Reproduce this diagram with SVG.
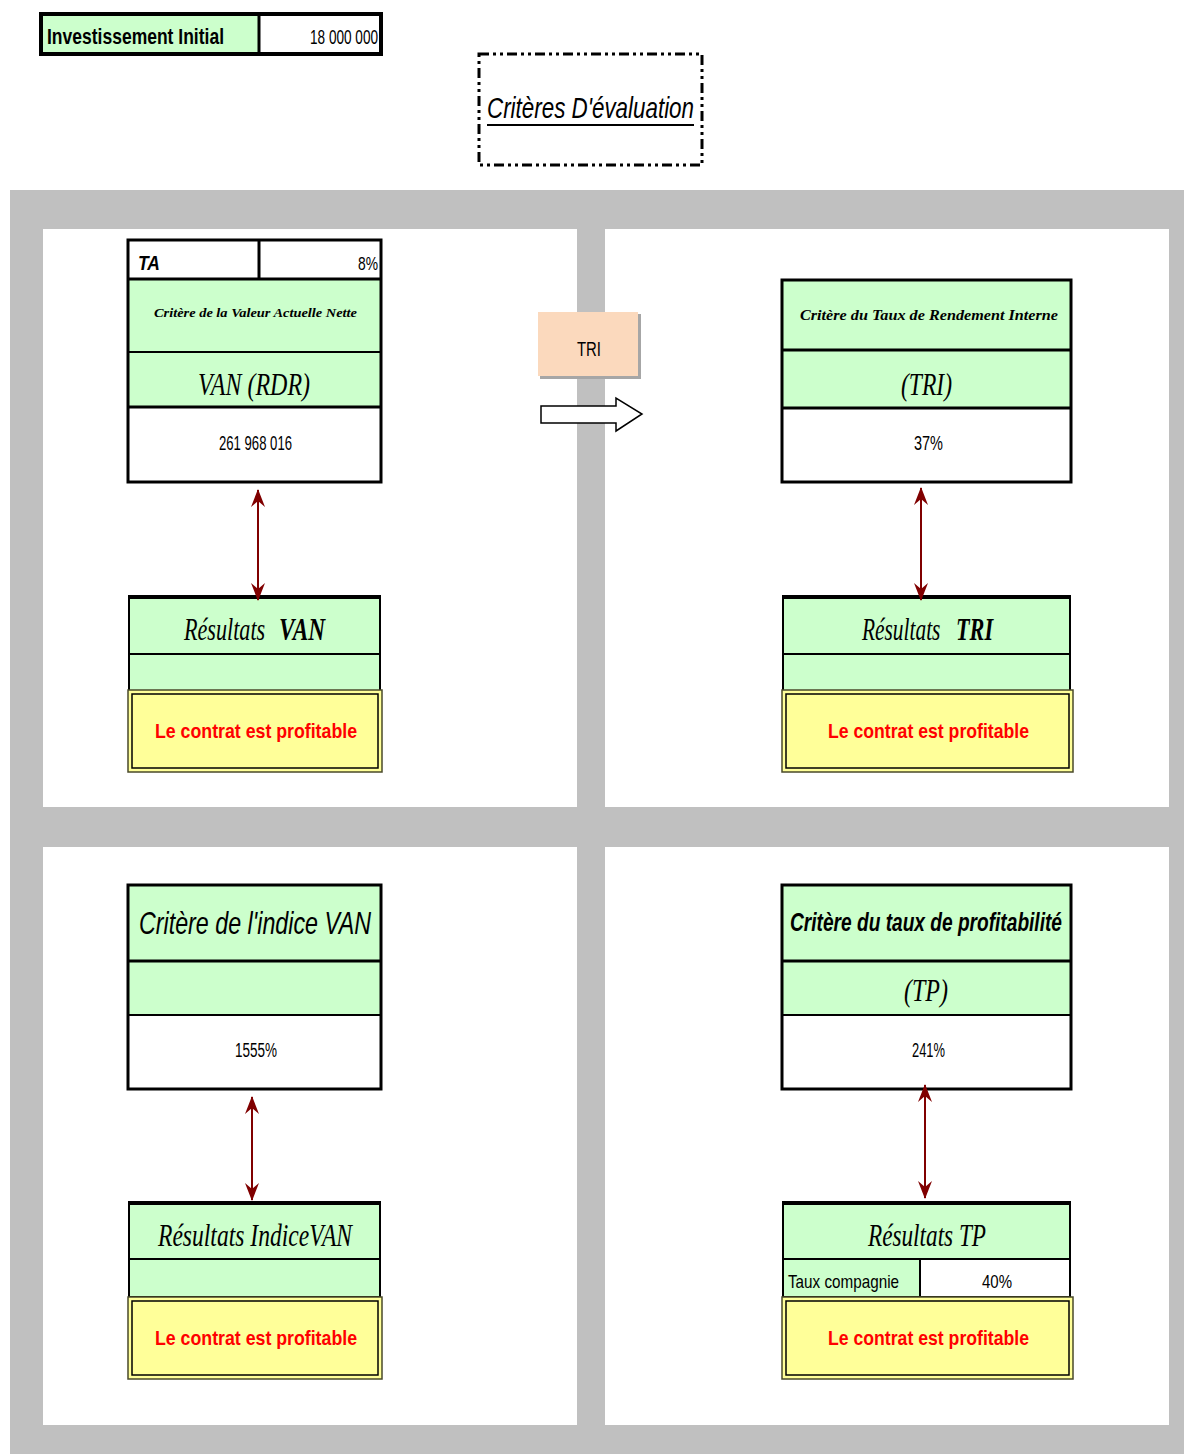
<svg xmlns="http://www.w3.org/2000/svg" width="1184" height="1454" viewBox="0 0 1184 1454">
<style>
.green{fill:#CCFFCC}
.white{fill:#FFFFFF}
.frame{fill:none;stroke:#000;stroke-width:3}
.thick{stroke:#000;stroke-width:3}
.thin{stroke:#000;stroke-width:2}
.sans{font-family:"Liberation Sans",Arial,sans-serif;fill:#000}
.serif{font-family:"Liberation Serif","Times New Roman",serif;fill:#000}
.red{font-family:"Liberation Sans",Arial,sans-serif;font-weight:bold;fill:#FF0000;font-size:21px}
.yel{fill:#FFFF99;stroke:#4a4a2a;stroke-width:1.5}
.yelin{fill:none;stroke:#000;stroke-width:1.5}
.conn{stroke:#800000;stroke-width:2;fill:none}
</style>
<defs>
<marker id="ah" viewBox="0 0 18 14" refX="17" refY="7" markerWidth="18" markerHeight="14" markerUnits="userSpaceOnUse" orient="auto-start-reverse">
<path d="M0,0 L18,7 L0,14 L6,7 Z" fill="#800000"/>
</marker>
</defs>
<rect x="0" y="0" width="1184" height="1454" fill="#FFFFFF"/>
<g id="background">
<rect x="10" y="190" width="1174" height="1264" fill="#C0C0C0"/>
<rect x="43" y="229" width="534" height="578" fill="#FFFFFF"/>
<rect x="605" y="229" width="564" height="578" fill="#FFFFFF"/>
<rect x="43" y="847" width="534" height="578" fill="#FFFFFF"/>
<rect x="605" y="847" width="564" height="578" fill="#FFFFFF"/>
</g>
<g id="investissement">
<rect x="40" y="14" width="219" height="40" class="green"/>
<rect x="259" y="14" width="123" height="40" class="white"/>
<rect x="41" y="14" width="340" height="40" fill="none" stroke="#000" stroke-width="4"/>
<line x1="259" y1="14" x2="259" y2="54" class="thick"/>
<text x="47" y="44" class="sans" font-weight="bold" font-size="22" textLength="177" lengthAdjust="spacingAndGlyphs">Investissement Initial</text>
<text x="310" y="44" class="sans" font-size="20" textLength="68" lengthAdjust="spacingAndGlyphs">18 000 000</text>
</g>
<g id="titre">
<rect x="479" y="54" width="223" height="111" fill="none" stroke="#000" stroke-width="3" stroke-dasharray="10,4,3,4,3,4"/>
<text x="487" y="118" class="sans" font-style="italic" font-size="30" textLength="207" lengthAdjust="spacingAndGlyphs">Critères D'évaluation</text>
<line x1="487" y1="125" x2="694" y2="125" stroke="#000" stroke-width="2"/>
</g>
<g id="van">
<rect x="128" y="239" width="253" height="39" class="white"/>
<rect x="128" y="278" width="253" height="129" class="green"/>
<rect x="128" y="407" width="253" height="76" class="white"/>
<line x1="259" y1="239" x2="259" y2="278" class="thick"/>
<line x1="128" y1="279" x2="381" y2="279" class="thick"/>
<line x1="128" y1="352" x2="381" y2="352" class="thin"/>
<line x1="128" y1="407" x2="381" y2="407" class="thick"/>
<rect x="128" y="240" width="253" height="242" class="frame"/>
<text x="138" y="270" class="sans" font-weight="bold" font-style="italic" font-size="20" textLength="22" lengthAdjust="spacingAndGlyphs">TA</text>
<text x="358" y="270" class="sans" font-size="19" textLength="20" lengthAdjust="spacingAndGlyphs">8%</text>
<text x="154" y="317" class="serif" font-weight="bold" font-style="italic" font-size="12" textLength="203" lengthAdjust="spacingAndGlyphs">Critère de la Valeur Actuelle Nette</text>
<text x="198" y="395" class="serif" font-style="italic" font-size="32" textLength="112" lengthAdjust="spacingAndGlyphs">VAN (RDR)</text>
<text x="219" y="450" class="sans" font-size="20" textLength="73" lengthAdjust="spacingAndGlyphs">261 968 016</text>
</g>
<g id="tri-bouton">
<rect x="540" y="314" width="101" height="65" fill="#A6A6A6"/>
<rect x="538" y="312" width="100" height="64" fill="#FBD9BD"/>
<text x="577" y="356" class="sans" font-size="20" textLength="24" lengthAdjust="spacingAndGlyphs">TRI</text>
</g>
<g id="fleche-bloc">
<path d="M541,406 L616,406 L616,398 L642,414 L616,431 L616,423 L541,423 Z" fill="#FFFFFF" stroke="#000" stroke-width="1.5"/>
</g>
<g id="tri">
<rect x="782" y="279" width="289" height="71" class="green"/>
<rect x="782" y="350" width="289" height="58" class="green"/>
<rect x="782" y="408" width="289" height="75" class="white"/>
<line x1="782" y1="350" x2="1071" y2="350" class="thick"/>
<line x1="782" y1="408" x2="1071" y2="408" class="thick"/>
<rect x="782" y="280" width="289" height="202" class="frame"/>
<text x="800" y="320" class="serif" font-weight="bold" font-style="italic" font-size="14" textLength="258" lengthAdjust="spacingAndGlyphs">Critère du Taux de Rendement Interne</text>
<text x="901" y="395" class="serif" font-style="italic" font-size="32" textLength="51" lengthAdjust="spacingAndGlyphs">(TRI)</text>
<text x="914" y="450" class="sans" font-size="20" textLength="29" lengthAdjust="spacingAndGlyphs">37%</text>
</g>
<g id="resultats-van">
<rect x="128" y="597" width="253" height="94" class="green"/>
<line x1="128" y1="654" x2="381" y2="654" class="thin"/>
<rect x="129" y="597" width="251" height="94" fill="none" stroke="#000" stroke-width="2"/>
<line x1="128" y1="597" x2="381" y2="597" stroke="#000" stroke-width="4"/>
<text transform="translate(184,640) scale(0.7,1)" class="serif" font-style="italic" font-size="32" textLength="116" lengthAdjust="spacingAndGlyphs">Résultats</text>
<text transform="translate(279,640) scale(0.7,1)" class="serif" font-style="italic" font-weight="bold" font-size="32" textLength="66" lengthAdjust="spacingAndGlyphs">VAN</text>
<rect x="128" y="690" width="254" height="82" class="yel"/>
<rect x="132" y="694" width="246" height="74" class="yelin"/>
<text x="155" y="738" class="red" textLength="202" lengthAdjust="spacingAndGlyphs">Le contrat est profitable</text>
</g>
<g id="resultats-tri">
<rect x="782" y="597" width="289" height="94" class="green"/>
<line x1="782" y1="654" x2="1071" y2="654" class="thin"/>
<rect x="783" y="597" width="287" height="94" fill="none" stroke="#000" stroke-width="2"/>
<line x1="782" y1="597" x2="1071" y2="597" stroke="#000" stroke-width="4"/>
<text transform="translate(862,640) scale(0.7,1)" class="serif" font-style="italic" font-size="32" textLength="112" lengthAdjust="spacingAndGlyphs">Résultats</text>
<text transform="translate(956,640) scale(0.7,1)" class="serif" font-style="italic" font-weight="bold" font-size="32" textLength="53" lengthAdjust="spacingAndGlyphs">TRI</text>
<rect x="782" y="690" width="291" height="82" class="yel"/>
<rect x="786" y="694" width="283" height="74" class="yelin"/>
<text x="828" y="738" class="red" textLength="201" lengthAdjust="spacingAndGlyphs">Le contrat est profitable</text>
</g>
<g id="indice-van">
<rect x="128" y="885" width="253" height="130" class="green"/>
<rect x="128" y="1015" width="253" height="74" class="white"/>
<line x1="128" y1="961" x2="381" y2="961" class="thick"/>
<line x1="128" y1="1015" x2="381" y2="1015" class="thin"/>
<rect x="128" y="885" width="253" height="204" class="frame"/>
<text x="139" y="934" class="sans" font-style="italic" font-size="32" textLength="232" lengthAdjust="spacingAndGlyphs">Critère de l'indice VAN</text>
<text x="235" y="1057" class="sans" font-size="20" textLength="42" lengthAdjust="spacingAndGlyphs">1555%</text>
</g>
<g id="tp">
<rect x="782" y="885" width="289" height="130" class="green"/>
<rect x="782" y="1015" width="289" height="74" class="white"/>
<line x1="782" y1="961" x2="1071" y2="961" class="thick"/>
<line x1="782" y1="1015" x2="1071" y2="1015" class="thin"/>
<rect x="782" y="885" width="289" height="204" class="frame"/>
<text x="790" y="931" class="sans" font-weight="bold" font-style="italic" font-size="26" textLength="272" lengthAdjust="spacingAndGlyphs">Critère du taux de profitabilité</text>
<text x="904" y="1001" class="serif" font-style="italic" font-size="32" textLength="44" lengthAdjust="spacingAndGlyphs">(TP)</text>
<text x="912" y="1057" class="sans" font-size="20" textLength="33" lengthAdjust="spacingAndGlyphs">241%</text>
</g>
<g id="resultats-indice-van">
<rect x="128" y="1203" width="253" height="94" class="green"/>
<line x1="128" y1="1259" x2="381" y2="1259" class="thin"/>
<rect x="129" y="1203" width="251" height="94" fill="none" stroke="#000" stroke-width="2"/>
<line x1="128" y1="1203" x2="381" y2="1203" stroke="#000" stroke-width="4"/>
<text x="158" y="1246" class="serif" font-style="italic" font-size="32" textLength="194" lengthAdjust="spacingAndGlyphs">Résultats IndiceVAN</text>
<rect x="128" y="1297" width="254" height="82" class="yel"/>
<rect x="132" y="1301" width="246" height="74" class="yelin"/>
<text x="155" y="1345" class="red" textLength="202" lengthAdjust="spacingAndGlyphs">Le contrat est profitable</text>
</g>
<g id="resultats-tp">
<rect x="782" y="1203" width="289" height="94" class="green"/>
<rect x="920" y="1259" width="151" height="38" class="white"/>
<line x1="782" y1="1259" x2="1071" y2="1259" class="thin"/>
<line x1="920" y1="1259" x2="920" y2="1297" class="thin"/>
<rect x="783" y="1203" width="287" height="94" fill="none" stroke="#000" stroke-width="2"/>
<line x1="782" y1="1203" x2="1071" y2="1203" stroke="#000" stroke-width="4"/>
<text x="868" y="1246" class="serif" font-style="italic" font-size="32" textLength="118" lengthAdjust="spacingAndGlyphs">Résultats TP</text>
<text x="788" y="1288" class="sans" font-size="19" textLength="111" lengthAdjust="spacingAndGlyphs">Taux compagnie</text>
<text x="982" y="1288" class="sans" font-size="19" textLength="30" lengthAdjust="spacingAndGlyphs">40%</text>
<rect x="782" y="1297" width="291" height="82" class="yel"/>
<rect x="786" y="1301" width="283" height="74" class="yelin"/>
<text x="828" y="1345" class="red" textLength="201" lengthAdjust="spacingAndGlyphs">Le contrat est profitable</text>
</g>
<g id="connecteurs">
<line x1="258" y1="490" x2="258" y2="600" class="conn" marker-start="url(#ah)" marker-end="url(#ah)"/>
<line x1="921" y1="488" x2="921" y2="600" class="conn" marker-start="url(#ah)" marker-end="url(#ah)"/>
<line x1="252" y1="1097" x2="252" y2="1200" class="conn" marker-start="url(#ah)" marker-end="url(#ah)"/>
<line x1="925" y1="1085" x2="925" y2="1198" class="conn" marker-start="url(#ah)" marker-end="url(#ah)"/>
</g>
</svg>
